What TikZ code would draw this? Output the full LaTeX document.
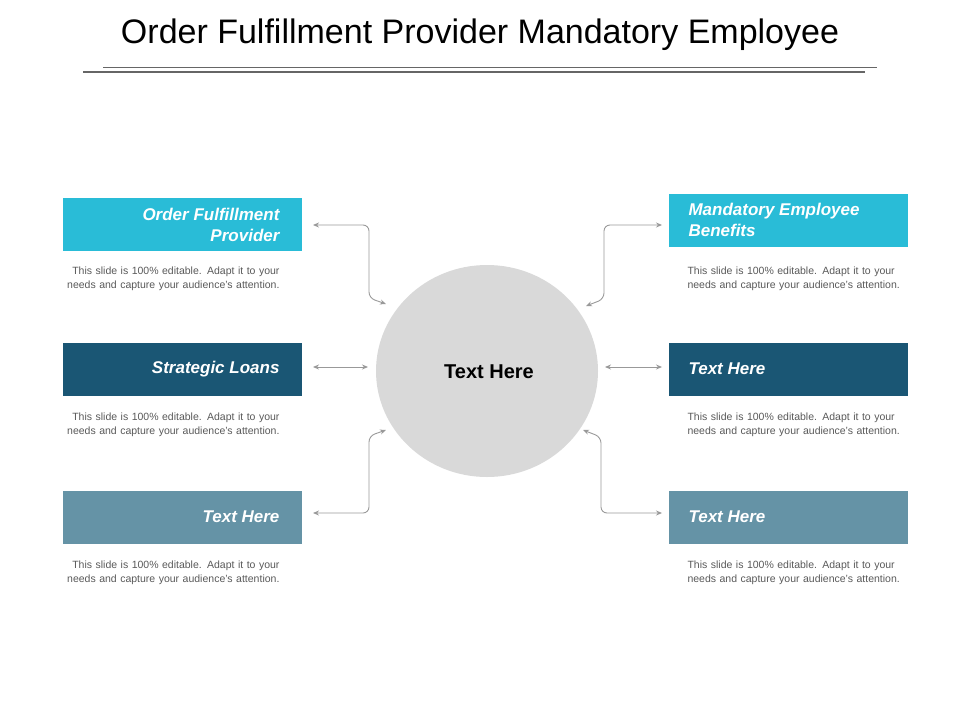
\documentclass[tikz,border=0pt]{standalone}
\usepackage{fontspec}
\setmainfont{Liberation Sans}
\usetikzlibrary{arrows.meta,shapes.geometric}
\definecolor{cy}{HTML}{29BCD7}
\definecolor{dk}{HTML}{1A5674}
\definecolor{gb}{HTML}{6593A6}
\definecolor{tx}{HTML}{595959}
\begin{document}
\begin{tikzpicture}[x=1pt,y=-1pt,
 box/.style={minimum width=239pt,minimum height=53pt,inner sep=0pt},
 lbl/.style={text=white,font=\fontsize{17}{21}\selectfont\bfseries\itshape},
 body/.style={text=tx,font=\fontsize{10.5}{14}\selectfont,text width=225pt},
 con/.style={draw=gray!80,line width=0.9pt,rounded corners=6pt,{Stealth[length=6pt,width=5pt]}-{Stealth[length=6pt,width=5pt]}}]
\useasboundingbox (0,0) rectangle (960,720);
\node (title) at (480,35) {\fontsize{34}{40}\selectfont Order Fulfillment Provider Mandatory Employee};
\draw[gray!80!black,line width=0.8pt] (103,67) -- (877,67);
\draw[gray!80!black,line width=2pt] (83,72) -- (865,72);
\node[fill=gray!30,ellipse,minimum width=222pt,minimum height=212pt,inner sep=0pt] (c) at (487,371) {};
\node[font=\fontsize{20}{24}\selectfont\bfseries] (ct) at (489,372) {Text Here};
% left boxes
\node[box,fill=cy] (l1) at (182.5,224.5) {};
\node[lbl,align=right,anchor=east] at (283,224.5) {Order Fulfillment\\Provider};
\node[box,fill=dk] (l2) at (182.5,369) {};
\node[lbl,anchor=east] at (283,369) {Strategic Loans};
\node[box,fill=gb] (l3) at (182.5,517) {};
\node[lbl,anchor=east] at (283,517) {Text Here};
% right boxes
\node[box,fill=cy] (r1) at (788,220) {};
\node[lbl,align=left,anchor=west] at (685,220) {Mandatory Employee\\Benefits};
\node[box,fill=dk] (r2) at (788,369) {};
\node[lbl,anchor=west] at (685,369) {Text Here};
\node[box,fill=gb] (r3) at (788,517) {};
\node[lbl,anchor=west] at (685,517) {Text Here};
% body texts
\foreach \y in {279,425,573}{
 \node[body,align=right,anchor=east] at (283,\y) {This slide is 100\% editable. Adapt it to your needs and capture your audience's attention.};
 \node[body,align=left,anchor=west] at (684,\y) {This slide is 100\% editable. Adapt it to your needs and capture your audience's attention.};
}
% connectors
\coordinate (a1) at (313,225); \coordinate (b1) at (386,304);
\draw[con] (a1) -- (369,225) -- (369,298) -- (b1);
\coordinate (a2) at (313,367); \coordinate (b2) at (368,367);
\draw[con] (a2) -- (b2);
\coordinate (a3) at (313,513); \coordinate (b3) at (386,430);
\draw[con] (a3) -- (369,513) -- (369,436) -- (b3);
\coordinate (a4) at (662,225); \coordinate (b4) at (586,306);
\draw[con] (a4) -- (604,225) -- (604,299) -- (b4);
\coordinate (a5) at (662,367); \coordinate (b5) at (605,367);
\draw[con] (a5) -- (b5);
\coordinate (a6) at (662,513); \coordinate (b6) at (583,430);
\draw[con] (a6) -- (601,513) -- (601,437) -- (b6);
\end{tikzpicture}
\end{document}
